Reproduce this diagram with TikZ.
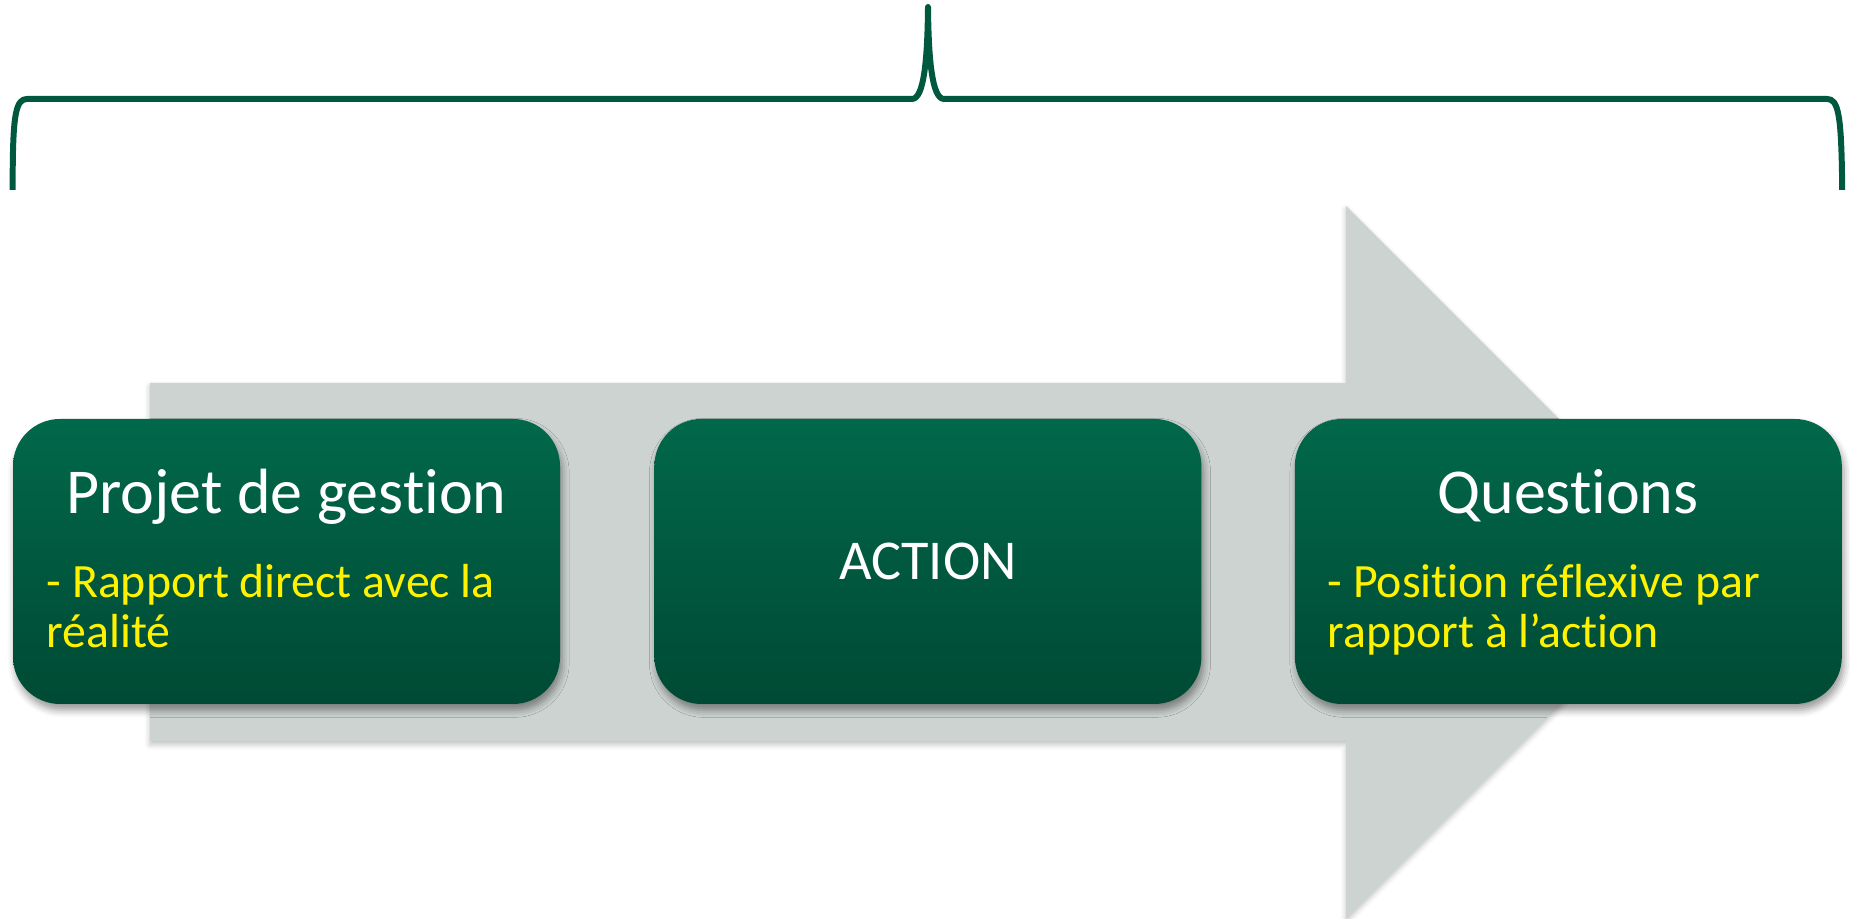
\documentclass[tikz,border=0pt]{standalone}
\usepackage{fontspec}
\setmainfont[Ligatures=NoCommon]{Carlito}
\usetikzlibrary{positioning}
\usetikzlibrary{shadows.blur}

\definecolor{boxtop}{RGB}{1,104,74}
\definecolor{boxbot}{RGB}{0,74,52}
\definecolor{arrowgray}{RGB}{204,211,208}
\definecolor{bracegreen}{RGB}{0,88,62}

\tikzset{
  greenbox/.style={rectangle, rounded corners=0.47cm, minimum width=5.47cm, minimum height=2.85cm,
    inner sep=0pt, top color=boxtop, bottom color=boxbot,
    blur shadow={shadow xshift=0.6pt, shadow yshift=-1.8pt, shadow blur radius=2pt, shadow opacity=40}},
  boxtitle/.style={white, anchor=base, font=\fontsize{18.2}{22}\selectfont},
  boxnote/.style={yellow, anchor=base west, align=left, inner sep=0pt, font=\fontsize{13.6}{14.5}\selectfont},
}

\begin{document}
\begin{tikzpicture}[scale=1.0]
        \useasboundingbox (0,0) rectangle (18.5,9.19);

        % Big grey arrow behind the boxes
        \fill[arrowgray, blur shadow={shadow xshift=0pt, shadow yshift=-1pt, shadow blur radius=1.5pt, shadow opacity=25}]
            (1.50,5.36) -- (13.46,5.36) -- (13.46,7.13) -- (17.02,3.57)
            -- (13.46,0.01) -- (13.46,1.78) -- (1.50,1.78) -- cycle;

        % Green boxes
        \node[greenbox] (projet) at (2.865,3.575) {};
        \node[greenbox, right=0.93cm of projet] (action) {};
        \node[greenbox, right=0.92cm of action] (questions) {};

        % Titles
        \node[boxtitle] (projettitle) at (2.865,4.05) {Projet de gestion};
        \node[white, font=\fontsize{16}{19}\selectfont] (actiontitle) at (action.center) {ACTION};
        \node[boxtitle] (questionstitle) at (15.68,4.05) {Questions};

        % Yellow notes (anchored on the last line)
        \node[boxnote] (projetnote) at (0.46,2.71) {- Rapport direct avec la\\réalité};
        \node[boxnote] (questionsnote) at (13.27,2.71) {- Position réflexive par\\rapport à l’action};

        % Brace over everything
        \draw[bracegreen, line width=1.7pt, line join=round]
            (0.127,7.29) -- (0.127,7.45) .. controls (0.13,8.05) and (0.16,8.20) .. (0.27,8.20)
            -- (9.12,8.20) .. controls (9.24,8.20) and (9.275,8.60) .. (9.28,9.12)
            .. controls (9.285,8.60) and (9.32,8.20) .. (9.44,8.20)
            -- (18.27,8.20) .. controls (18.38,8.20) and (18.41,8.05) .. (18.42,7.45)
            -- (18.42,7.29);

    \end{tikzpicture}
\end{document}
